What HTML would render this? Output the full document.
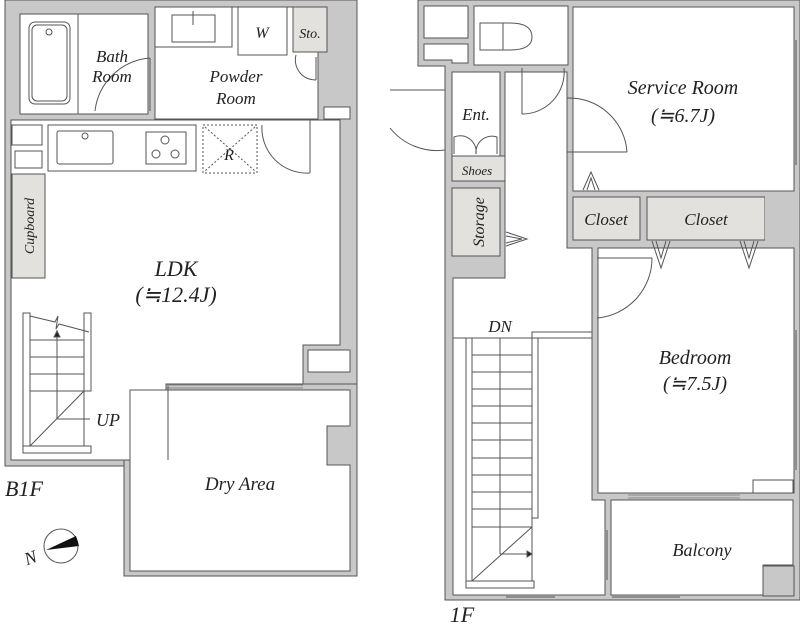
<!DOCTYPE html>
<html><head><meta charset="utf-8"><style>
html,body{margin:0;padding:0;background:#fff;}
svg{display:block}
text{font-family:"Liberation Serif",serif;font-style:italic;fill:#222;}
</style></head><body>
<svg width="800" height="631" viewBox="0 0 800 631" xmlns="http://www.w3.org/2000/svg">
<g stroke="#555" stroke-width="1" fill="#c8c8c8">
<rect x="5" y="0" width="352" height="466"/>
<rect x="124" y="384" width="233" height="192"/>
</g>
<g stroke="#555" stroke-width="1" fill="#fff">
<path d="M11 120 H340 V345 H303 V384 H166 V460 H11 Z"/>
<path d="M130 390 H350 V426 H327 V465 H350 V571 H130 Z"/>
<rect x="20" y="14" width="128" height="100"/>
<line x1="78" y1="14" x2="78" y2="114"/>
<rect x="29" y="22" width="41" height="82" rx="6"/>
<rect x="32" y="25" width="35" height="76" rx="5"/>
<circle cx="49" cy="32" r="3"/>
<rect x="155" y="7" width="163" height="112"/>
<rect x="155" y="7" width="77" height="40"/>
<rect x="172" y="15" width="43" height="27"/>
<line x1="193" y1="11" x2="193" y2="25"/>
<rect x="238" y="7" width="49" height="48"/>
<rect x="293" y="7" width="34" height="45" fill="#e3e1de"/>
<rect x="324" y="107" width="26" height="12"/>
<rect x="48" y="125" width="148" height="46"/>
<rect x="57" y="131" width="56" height="33" rx="2"/>
<circle cx="85" cy="136" r="3"/>
<rect x="146" y="132" width="40" height="32"/>
<circle cx="165" cy="140" r="4"/><circle cx="156" cy="154" r="4"/><circle cx="175" cy="154" r="4"/>
<rect x="12" y="125" width="30" height="20"/>
<rect x="15" y="151" width="27" height="17"/>
<rect x="203" y="125" width="54" height="48" stroke-dasharray="2,2"/>
<line x1="205" y1="127" x2="255" y2="171" stroke-dasharray="2,2"/>
<line x1="255" y1="127" x2="205" y2="171" stroke-dasharray="2,2"/>
<rect x="12" y="174" width="33" height="104" fill="#e3e1de"/>
<rect x="308" y="350" width="42" height="22"/>
</g>
<g stroke="#555" stroke-width="1" fill="none">
<path d="M95 111 A60 60 0 0 1 150 58"/>
<line x1="150" y1="58" x2="150" y2="111"/>
<path d="M262 125 A45 45 0 0 0 310 173"/>
<line x1="310" y1="120" x2="310" y2="173"/>
<path d="M296 55 A20 20 0 0 0 316 80"/>
<line x1="316" y1="57" x2="316" y2="80"/>
<line x1="166" y1="385" x2="303" y2="385" stroke="#888"/>
<line x1="166" y1="388" x2="303" y2="388" stroke="#888"/>
<line x1="168" y1="386" x2="168" y2="460"/>
<rect x="23" y="313" width="7" height="140" fill="#fff"/>
<rect x="84" y="313" width="7" height="78" fill="#fff"/>
<rect x="23" y="446" width="68" height="7" fill="#fff"/>
<line x1="30" y1="340" x2="84" y2="340"/><line x1="30" y1="357" x2="84" y2="357"/><line x1="30" y1="374" x2="84" y2="374"/><line x1="30" y1="391" x2="84" y2="391"/>
<line x1="84" y1="391" x2="84" y2="446"/>
<line x1="30" y1="446" x2="84" y2="391"/>
<path d="M30 316 L55 322 L58 316 L56 329 L59 324 L89 332"/>
<line x1="57" y1="330" x2="57" y2="419"/>
<line x1="57" y1="419" x2="90" y2="419"/>
<path d="M54 337 L57 331 L60 337 Z" fill="#222"/>
</g>
<circle cx="61" cy="546" r="17" fill="#fff" stroke="#555"/>
<path d="M46 550 L76 536 L79 546 Z" fill="#111"/>
<text x="24" y="563" font-size="18" font-style="normal" transform="rotate(-20 32 556)">N</text>

<g stroke="#555" stroke-width="1" fill="#c8c8c8">
<path d="M418 0 H800 V600 H445 V66 H418 Z"/>
</g>
<g stroke="#555" stroke-width="1" fill="#fff">
<rect x="424" y="6" width="44" height="32"/>
<path d="M424 44 H468 V63 H452 V60 H424 Z"/>
<rect x="474" y="6" width="94" height="59"/>
<path d="M480 23 H503 V50 H480 Z" />
<path d="M503 23 H510 Q532 23 532 37 Q532 50 510 50 H503 Z"/>
<path d="M505 72 H567 V248 H592 V500 H605 V595 H453 V278 H505 Z"/>
<rect x="452" y="72" width="48" height="84"/>
<rect x="452" y="156" width="53" height="25" fill="#e3e1de"/>
<rect x="452" y="188" width="48" height="68" fill="#e3e1de"/>
<rect x="573" y="7" width="221" height="184"/>
<rect x="573" y="197" width="67" height="43" fill="#e3e1de"/>
<rect x="647" y="197" width="118" height="43" fill="#e3e1de"/>
<rect x="598" y="248" width="196" height="245"/>
<rect x="753" y="480" width="40" height="13"/>
<path d="M611 500 H793 V565 H763 V595 H611 Z"/>
</g>
<g stroke="#555" stroke-width="1" fill="none">
<rect x="532" y="332" width="60" height="6" fill="#fff"/>
<rect x="532" y="338" width="6" height="180" fill="#fff"/>
<rect x="466" y="338" width="6" height="250" fill="#fff"/>
<rect x="466" y="581" width="68" height="7" fill="#fff"/>
<line x1="453" y1="338" x2="532" y2="338"/>
<g>
<line x1="472" y1="355" x2="532" y2="355"/><line x1="472" y1="372" x2="532" y2="372"/><line x1="472" y1="389" x2="532" y2="389"/><line x1="472" y1="406" x2="532" y2="406"/><line x1="472" y1="423" x2="532" y2="423"/><line x1="472" y1="440" x2="532" y2="440"/><line x1="472" y1="458" x2="532" y2="458"/><line x1="472" y1="475" x2="532" y2="475"/><line x1="472" y1="492" x2="532" y2="492"/><line x1="472" y1="509" x2="532" y2="509"/><line x1="472" y1="527" x2="532" y2="527"/>
</g>
<line x1="532" y1="518" x2="532" y2="581"/>
<line x1="500" y1="338" x2="500" y2="554"/>
<line x1="472" y1="581" x2="532" y2="527"/>
<line x1="500" y1="554" x2="528" y2="554"/>
<path d="M527 551 L532 554 L527 557 Z" fill="#222"/>
<path d="M390 90 H445"/>
<path d="M390 128 A60 60 0 0 0 445 150"/>
<line x1="505" y1="72" x2="505" y2="156"/>
<path d="M522 114 A42 42 0 0 0 564 68"/>
<line x1="522" y1="68" x2="522" y2="114"/>
<path d="M567 98 A58 58 0 0 1 627 152"/>
<line x1="567" y1="152" x2="627" y2="152"/>
<path d="M454 154 V137 A16 16 0 0 1 476 154 A16 16 0 0 1 497 137 V154"/>
<path d="M597 318 A60 60 0 0 0 652 258"/>
<line x1="597" y1="258" x2="652" y2="258"/>
<path d="M583 190 L591 172 L599 190 M587 190 L591 178 L595 190"/>
<path d="M652 241 L661 268 L670 241 M656 241 L661 258 L666 241"/>
<path d="M740 241 L749 268 L758 241 M744 241 L749 258 L754 241"/>
<path d="M506 232 L527 239 L506 246 M506 236 L522 239 L506 243"/>
<line x1="628" y1="495" x2="740" y2="495" stroke="#888"/><line x1="628" y1="498" x2="740" y2="498" stroke="#888"/>
<line x1="506" y1="597" x2="555" y2="597"/>
<line x1="612" y1="597" x2="680" y2="597"/>
<line x1="607" y1="530" x2="607" y2="580"/>
<line x1="796" y1="40" x2="796" y2="165"/>
<line x1="796" y1="330" x2="796" y2="470"/>
</g>
<rect x="765" y="196" width="28" height="49" fill="#c8c8c8"/>
<rect x="763" y="566" width="31" height="30" fill="#c8c8c8" stroke="#555"/>

<text x="112" y="62" font-size="17" text-anchor="middle">Bath</text>
<text x="112" y="82" font-size="17" text-anchor="middle">Room</text>
<text x="236" y="82" font-size="17" text-anchor="middle">Powder</text>
<text x="236" y="104" font-size="17" text-anchor="middle">Room</text>
<text x="262" y="38" font-size="16" text-anchor="middle">W</text>
<text x="310" y="38" font-size="14" text-anchor="middle">Sto.</text>
<text x="229" y="160" font-size="16" text-anchor="middle">R</text>
<text x="34" y="226" font-size="14" text-anchor="middle" transform="rotate(-90 34 226)">Cupboard</text>
<text x="176" y="276" font-size="22" text-anchor="middle">LDK</text>
<text x="176" y="302" font-size="22" text-anchor="middle">(≒12.4J)</text>
<text x="108" y="426" font-size="18" text-anchor="middle">UP</text>
<text x="240" y="490" font-size="19" text-anchor="middle">Dry Area</text>
<text x="24" y="496" font-size="22" text-anchor="middle">B1F</text>
<text x="476" y="120" font-size="17" text-anchor="middle">Ent.</text>
<text x="477" y="175" font-size="13" text-anchor="middle">Shoes</text>
<text x="484" y="222" font-size="16" text-anchor="middle" transform="rotate(-90 484 222)">Storage</text>
<text x="683" y="94" font-size="20" text-anchor="middle">Service Room</text>
<text x="683" y="122" font-size="20" text-anchor="middle">(≒6.7J)</text>
<text x="606" y="225" font-size="17" text-anchor="middle">Closet</text>
<text x="706" y="225" font-size="17" text-anchor="middle">Closet</text>
<text x="500" y="332" font-size="17" text-anchor="middle">DN</text>
<text x="695" y="364" font-size="20" text-anchor="middle">Bedroom</text>
<text x="695" y="390" font-size="20" text-anchor="middle">(≒7.5J)</text>
<text x="702" y="556" font-size="18" text-anchor="middle">Balcony</text>
<text x="462" y="622" font-size="22" text-anchor="middle">1F</text>
</svg>
</body></html>
